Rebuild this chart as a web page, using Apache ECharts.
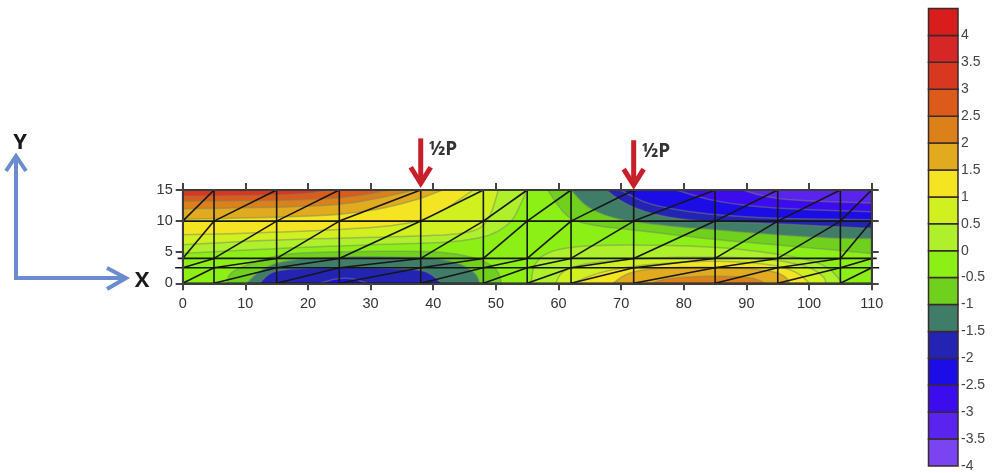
<!DOCTYPE html>
<html><head><meta charset="utf-8">
<style>html,body{margin:0;padding:0;background:#fff}#c{width:997px;height:473px;filter:blur(0.5px)}</style>
<script src="https://cdn.jsdelivr.net/npm/echarts@6/dist/echarts.min.js"></script>
</head><body><div id="c"></div>
<script>
// colour scale, from the legend (lower bound of each band)
const bandLows = [-4,-3.5,-3,-2.5,-2,-1.5,-1,-0.5,0,0.5,1,1.5,2,2.5,3,3.5,4];
const bandColors = ['#7a44f0','#5a24ee','#3c0cee','#1c0ce6','#2424b4','#3f7d68','#6fd01e','#8cf016','#aef02c','#d0f020','#f4e422','#e2aa1e','#dc801a','#dc5a1a','#d8381f','#d62626','#d91c1c'];
const baseLevel = -0.5;

// mesh
const meshX = [0,5,15,25,38,48,55,62,72,85,95,105,110];
const meshY = [0,2.5,4,10,15];

// loads
const loadX = [38,72];
const loadTip = [15.6,15.3];
const loadTail = [23.3,23];

// contours, [x,y]
const upLeft0  = [[0,4.8],[15,5.6],[30,6.2],[46.4,6.7],[52.2,9.1],[54.3,13.4],[54.9,15]];
const upLeft05 = [[0,6.2],[14.5,7],[35.7,7.5],[46.4,8],[49,10.2],[50.4,15]];
const upLeft1  = [[0,7.8],[9,8],[25,8.6],[35.7,9.4],[41,11.2],[46.4,15]];
const upLeft15 = [[0,10.3],[15,10.6],[25,11],[32,12],[38,13.6],[41.5,15]];
const upLeft2  = [[0,12],[15,12.2],[25,12.6],[31,13.6],[37,15]];
const upLeft25 = [[0,13.2],[15,13.3],[24,13.6],[29,14.2],[33,15]];
const upLeft3  = [[0,14],[14,14.1],[20,14.4],[24,15]];

const upRightM05 = [[58.3,15],[59.6,12.9],[61.8,10.2],[66,9.2],[71.9,8.6],[85,7],[94.7,6.2],[110,4.8]];
const upRightM1  = [[62,15],[64.4,12.3],[68,10.7],[71.9,9.9],[78.8,9.1],[85.2,8.6],[94.7,7.8],[105,7.2],[110,7.2]];
const upRightM15 = [[67.6,15],[70.3,12.9],[74.5,11.2],[79.9,10.2],[85,9.9],[94.7,9.6],[110,8.8]];
const upRightM2  = [[70,15],[73.5,13],[78.8,11.8],[85,11],[94.7,10.4],[110,10.2]];
const upRightM25 = [[78.8,15],[85,13.1],[94.7,12],[110,11.5]];
const upRightM3  = [[89.4,15],[94.7,13.4],[110,12.9]];

const lowMid0  = [[55.6,0],[56,3],[58,5],[62.8,6],[71.9,6.2],[85,5.9],[94.7,4.8],[102.7,3.2],[105.4,0]];
const lowMid05 = [[59.6,0],[60.2,1.6],[62.8,3],[71.9,4],[85,4.3],[94.7,3.8],[100,2.7],[102.5,1],[102.7,0]];
const lowMid1  = [[62.3,0],[65,1.2],[68,2.1],[73.5,3],[85,3.7],[94.7,3],[98.5,1.6],[100,0]];
const lowMid15 = [[68.7,0],[70.8,1.6],[74.5,2.4],[85,2.7],[94.2,2.1],[96.4,1],[96.9,0]];
const lowMid2  = [[75,0],[77,0.8],[84,1.2],[91,1],[93,0]];

const lowLeftM05 = [[7.1,0],[7.3,1.6],[10.7,3.2],[16,4.8],[25,5.1],[38,5.2],[43.7,4.8],[48,3.7],[50.4,2.1],[50.9,0]];
const lowLeftM1  = [[10.2,0],[12.3,2.1],[16,3.7],[25,4.3],[38,4.2],[43.7,3.5],[46.9,1.6],[47.4,0]];
const lowLeftM15 = [[12.3,0],[13.7,1.6],[16,2.3],[25,2.6],[38,2.3],[40,1.3],[41.3,0]];
const lowLeftM2  = [[21.9,0],[24.6,0.8],[27.2,0.8],[29.4,0]];

const topLeftCorner = [[0,15]];
const topRightCorner = [[110,15]];
const contours = [
  [-0.5,upRightM05,topRightCorner],[-1,upRightM1,topRightCorner],[-1.5,upRightM15,topRightCorner],
  [-2,upRightM2,topRightCorner],[-2.5,upRightM25,topRightCorner],[-3,upRightM3,topRightCorner],
  [0,upLeft0,topLeftCorner],[0.5,upLeft05,topLeftCorner],[1,upLeft1,topLeftCorner],[1.5,upLeft15,topLeftCorner],
  [2,upLeft2,topLeftCorner],[2.5,upLeft25,topLeftCorner],[3,upLeft3,topLeftCorner],
  [0,lowMid0,[]],[0.5,lowMid05,[]],[1,lowMid1,[]],[1.5,lowMid15,[]],[2,lowMid2,[]],
  [-0.5,lowLeftM05,[]],[-1,lowLeftM1,[]],[-1.5,lowLeftM15,[]],[-2,lowLeftM2,[]]
];

function bandColor(level, down){
  const i = bandLows.indexOf(level);
  return bandColors[down ? i-1 : i];
}
function chaikin(p){
  for(let k=0;k<3;k++){
    const o=[p[0]];
    for(let i=0;i<p.length-1;i++){
      const a=p[i],b=p[i+1];
      if(i>0) o.push([a[0]*.75+b[0]*.25,a[1]*.75+b[1]*.25]);
      if(i<p.length-2) o.push([a[0]*.25+b[0]*.75,a[1]*.25+b[1]*.75]);
    }
    o.push(p[p.length-1]);
    p=o;
  }
  return p;
}
const meshSegments=[];
meshX.forEach(x=>meshSegments.push([x,0,x,15]));
meshY.forEach(y=>{const e=(y===2.5)?1.2:(y===4?0.8:0);meshSegments.push([-e,y,110+e,y]);});
for(let i=0;i<meshX.length-1;i++)for(let j=0;j<meshY.length-1;j++)
  meshSegments.push([meshX[i],meshY[j],meshX[i+1],meshY[j+1]]);

const chart=echarts.init(document.getElementById('c'),null,{renderer:'canvas'});
const txt='#333', font='"Liberation Sans",Arial,sans-serif';
const axisBase={min:0,axisLine:{show:true,onZero:false,lineStyle:{color:'#3c3c3c',width:2}},axisTick:{show:true,length:7,lineStyle:{color:'#444',width:2}},splitLine:{show:false},z:6};
const blue='#6a8ccf';
chart.setOption({
  animation:false,
  backgroundColor:'#fff',
  grid:[
    {left:182.7,right:125.3,top:190,bottom:189.7},
    {left:928.5,right:39,top:8.5,bottom:7}
  ],
  xAxis:[
    {...axisBase,type:'value',max:110,interval:10,position:'bottom',gridIndex:0,
      axisLabel:{color:txt,fontFamily:font,fontSize:14.5,margin:13}},
    {...axisBase,type:'value',max:110,interval:10,position:'top',gridIndex:0,axisLabel:{show:false}},
    {type:'value',gridIndex:1,min:0,max:1,show:false}
  ],
  yAxis:[
    {...axisBase,type:'value',max:15,interval:5,position:'left',gridIndex:0,
      axisLabel:{color:txt,fontFamily:font,fontSize:14.5,margin:10}},
    {...axisBase,type:'value',max:15,interval:5,position:'right',gridIndex:0,axisLabel:{show:false}},
    {type:'value',gridIndex:1,min:-4,max:4.5,interval:0.5,position:'right',
      axisLine:{show:false},axisTick:{show:false},splitLine:{show:false},
      axisLabel:{color:'#444',fontFamily:font,fontSize:14,margin:3,
        formatter:v=>v>4.2?'':String(v)}}
  ],
  graphic:[
    {type:'polyline',shape:{points:[[16,158],[16,278],[124,278]]},style:{stroke:blue,lineWidth:4,fill:null},z:10},
    {type:'polyline',shape:{points:[[6,171],[16,156],[26,171]]},style:{stroke:blue,lineWidth:4,fill:null},z:10},
    {type:'polyline',shape:{points:[[107,268],[126,278],[107,289]]},style:{stroke:blue,lineWidth:4,fill:null},z:10},
    {type:'text',style:{text:'Y',x:20,y:143,align:'center',verticalAlign:'middle',font:'bold 22px "Open Sans"',fill:'#1a1a1a'},z:10},
    {type:'text',style:{text:'X',x:142,y:281,align:'center',verticalAlign:'middle',font:'bold 22px "Open Sans"',fill:'#1a1a1a'},z:10}
  ],
  series:[
    {type:'custom',name:'field',xAxisIndex:0,yAxisIndex:0,clip:true,silent:true,z:2,
      data:[[0]],
      renderItem:(p,api)=>{
        const a=api.coord([0,0]),b=api.coord([110,15]);
        return {type:'rect',shape:{x:a[0],y:b[1],width:b[0]-a[0],height:a[1]-b[1]},
          style:{fill:bandColor(baseLevel,false)}};
      }},
    {type:'custom',name:'contours',xAxisIndex:0,yAxisIndex:0,clip:true,silent:true,z:3,
      data:contours.map((c,i)=>[i]),
      renderItem:(p,api)=>{
        const c=contours[p.dataIndex];
        const edge=chaikin(c[1]).map(q=>api.coord(q));
        const close=c[2].map(q=>api.coord(q));
        const down=c[0]<0;
        return {type:'group',children:[
          {type:'polygon',shape:{points:edge.concat(close)},style:{fill:bandColor(c[0],down)}},
          {type:'polyline',shape:{points:edge},style:{fill:null,stroke:'rgba(120,135,95,0.5)',lineWidth:1.5}}
        ]};
      }},
    {type:'custom',name:'mesh',xAxisIndex:0,yAxisIndex:0,clip:false,silent:true,z:4,
      data:meshSegments,
      renderItem:(p,api)=>{
        const a=api.coord([api.value(0),api.value(1)]),b=api.coord([api.value(2),api.value(3)]);
        return {type:'line',shape:{x1:a[0],y1:a[1],x2:b[0],y2:b[1]},style:{stroke:'#161616',lineWidth:1.6}};
      }},
    {type:'custom',name:'legend',xAxisIndex:2,yAxisIndex:2,silent:true,z:4,
      data:bandLows.map(v=>[v]),
      renderItem:(p,api)=>{
        const lo=api.value(0);
        const a=api.coord([0,lo]),b=api.coord([1,lo+0.5]);
        return {type:'rect',shape:{x:a[0],y:b[1],width:b[0]-a[0],height:a[1]-b[1]},
          style:{fill:bandColors[p.dataIndex],stroke:'#3a2a2a',lineWidth:1.5}};
      }},
    {type:'custom',name:'loads',xAxisIndex:0,yAxisIndex:0,clip:false,silent:true,z:8,
      data:loadX.map((x,i)=>[x,loadTip[i],loadTail[i]]),
      renderItem:(p,api)=>{
        const t=api.coord([api.value(0),api.value(1)]),s=api.coord([api.value(0),api.value(2)]);
        const red='#c8202a';
        return {type:'group',children:[
          {type:'line',shape:{x1:s[0],y1:s[1],x2:t[0],y2:t[1]-4},style:{stroke:red,lineWidth:5}},
          {type:'polyline',shape:{points:[[t[0]-10,t[1]-19],[t[0],t[1]-3],[t[0]+10,t[1]-19]]},style:{fill:null,stroke:red,lineWidth:5}},
          {type:'text',style:{text:'½P',x:t[0]+8,y:s[1]+11,verticalAlign:'middle',font:'bold 19px "Open Sans"',fill:'#333'}}
        ]};
      }}
  ]
});
</script></body></html>
